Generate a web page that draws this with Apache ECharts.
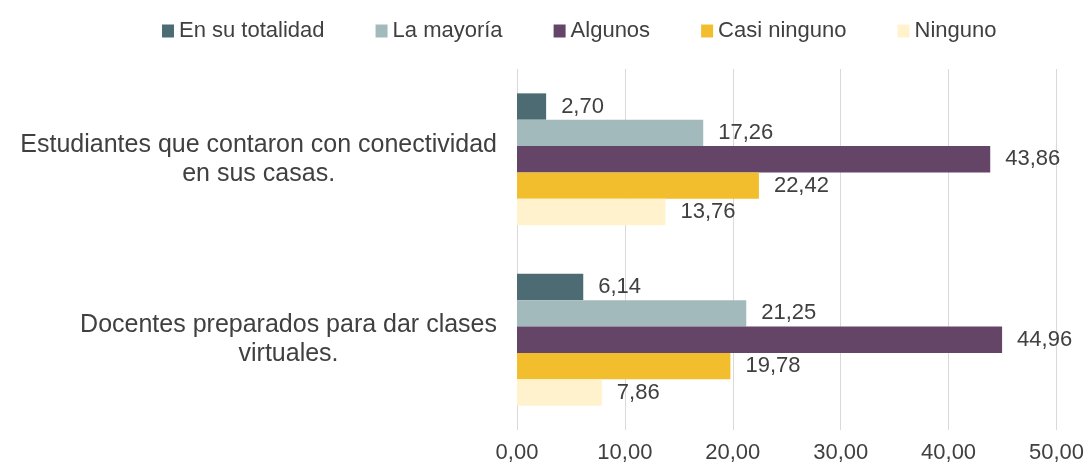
<!DOCTYPE html>
<html>
<head>
<meta charset="utf-8">
<script src="https://cdn.jsdelivr.net/npm/echarts@6/dist/echarts.min.js"></script>
<style>
html, body { margin: 0; padding: 0; background: #fff; }
#chart { width: 1087px; height: 464px; }
</style>
</head>
<body>
<div id="chart"></div>
<script>
var categories = ['Estudiantes que contaron con conectividad\nen sus casas.', 'Docentes preparados para dar clases\nvirtuales.'];
var seriesNames = ['En su totalidad', 'La mayoría', 'Algunos', 'Casi ninguno', 'Ninguno'];
var colors = ['#4d6b73', '#a3babd', '#654567', '#f2be2e', '#fff2cc'];
var totalidad = [2.70, 6.14];
var mayoria = [17.26, 21.25];
var algunos = [43.86, 44.96];
var casiNinguno = [22.42, 19.78];
var ninguno = [13.76, 7.86];
var values = [totalidad, mayoria, algunos, casiNinguno, ninguno];

var font = 'Liberation Sans';
var textColor = '#404040';

var myChart = echarts.init(document.getElementById('chart'));

var series = [];
for (var i = 0; i < seriesNames.length; i++) {
    series.push({
        name: seriesNames[i],
        type: 'bar',
        data: values[i],
        barGap: '0%',
        barCategoryGap: '27%',
        itemStyle: { color: colors[i] },
        label: {
            show: true,
            position: 'right',
            distance: 15,
            fontFamily: font,
            fontSize: 22,
            color: textColor,
            formatter: function (p) { return p.value.toFixed(2).replace('.', ','); }
        }
    });
}

option = {
    animation: false,
    textStyle: { fontFamily: font },
    legend: {
        data: seriesNames,
        top: 15,
        left: 157,
        itemWidth: 12,
        itemHeight: 13,
        itemGap: 51,
        icon: 'rect',
        textStyle: { fontFamily: font, fontSize: 22, color: textColor }
    },
    grid: {
        top: 69,
        bottom: 34,
        left: 517,
        right: 30
    },
    xAxis: {
        type: 'value',
        min: 0,
        max: 50,
        interval: 10,
        axisLine: { show: false },
        axisTick: { show: false },
        splitLine: { lineStyle: { color: '#d9d9d9', width: 1 } },
        axisLabel: {
            fontFamily: font,
            fontSize: 22,
            color: textColor,
            margin: 12,
            formatter: function (v) { return v.toFixed(2).replace('.', ','); }
        }
    },
    yAxis: {
        type: 'category',
        inverse: true,
        data: categories,
        axisLine: { show: false },
        axisTick: { show: false },
        axisLabel: {
            margin: 20,
            lineHeight: 29,
            fontFamily: font,
            fontSize: 25,
            color: textColor,
            formatter: function (v) {
                return v.split('\n').map(function (s) { return '{c|' + s + '}'; }).join('\n');
            },
            rich: {
                c: { align: 'center', fontFamily: font, fontSize: 25, color: textColor, lineHeight: 29 }
            }
        }
    },
    series: series
};

myChart.setOption(option);
</script>
</body>
</html>
